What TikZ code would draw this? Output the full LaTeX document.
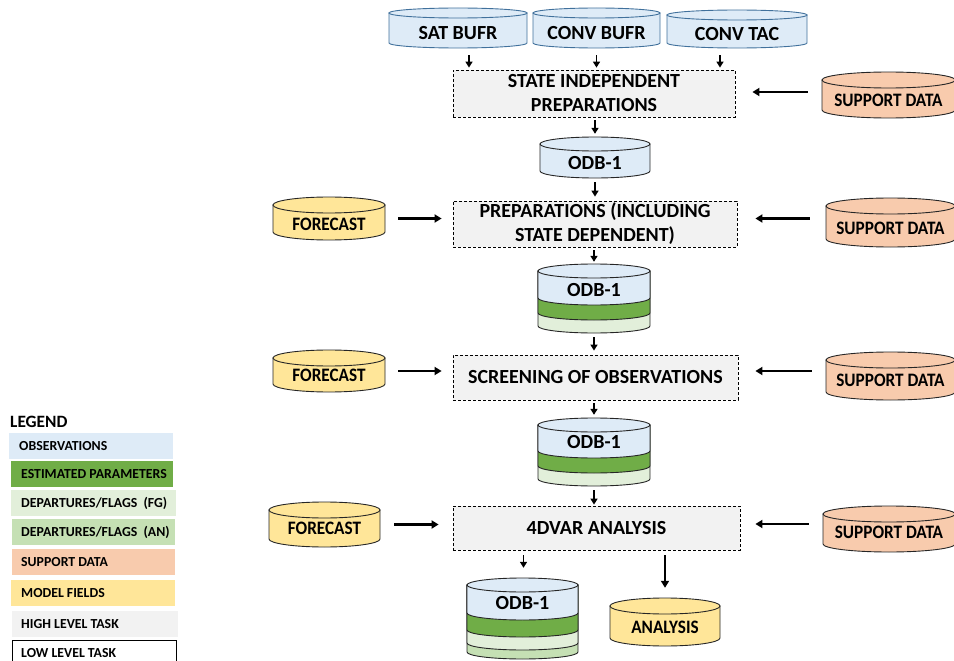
\documentclass[tikz,border=0pt]{standalone}
\usepackage{fontspec}
\setmainfont{Carlito}
\usetikzlibrary{arrows.meta,fit}
\definecolor{obs}{HTML}{DEEBF7}
\definecolor{est}{HTML}{70AD47}
\definecolor{fgc}{HTML}{E2EFDA}
\definecolor{anc}{HTML}{C5E0B4}
\definecolor{supc}{HTML}{F8CBAD}
\definecolor{mfc}{HTML}{FFE699}
\definecolor{hlt}{HTML}{F2F2F2}
\definecolor{blueedge}{HTML}{41719C}
\definecolor{darkedge}{HTML}{262626}
% L R T B e style
\newcommand\cylbody[6]{\filldraw[#6] (#1,#3+#5) -- (#1,#4-#5) arc[start angle=180,end angle=0,x radius={(#2-#1)/2},y radius=#5] -- (#2,#3+#5) -- cycle;}
\newcommand\cyltop[6]{\filldraw[#6] ({(#1+#2)/2},#3+#5) ellipse[x radius={(#2-#1)/2},y radius=#5];}
% name L R T B e style texty text
\newcommand\cylnode[9]{\cylbody{#2}{#3}{#4}{#5}{#6}{#7}\cyltop{#2}{#3}{#4}{#5}{#6}{#7}%
  \node[fit={(#2,#4) (#3,#5)},inner sep=0] (#1) {};
  \node[lbl] (#1-t) at ({(#2+#3)/2},#8) {#9};}
% top layer of a layered store: name L R T Btop Bfull e texty text
\newcommand\cyllayernode[9]{\cylbody{#2}{#3}{#4}{#5}{#7}{obscyl}\cyltop{#2}{#3}{#4}{#5}{#7}{obscyl}%
  \node[fit={(#2,#4) (#3,#6)},inner sep=0] (#1) {};
  \node[lbl] (#1-t) at ({(#2+#3)/2},#8) {#9};}
\newcommand\sm[1]{\scalebox{0.86}[0.95]{#1}}
\begin{document}
\begin{tikzpicture}[x=1pt,y=-1pt,
  bfnt/.style={font=\bfseries\fontsize{20}{24}\selectfont},
  lbl/.style={bfnt,inner sep=0},
  task/.style={draw=black,dash pattern=on 3pt off 2pt,fill=hlt,line width=0.8pt,bfnt,align=center,inner sep=0},
  arr/.style={line width=1.8pt,-{Triangle[length=6pt,width=7pt]}},
  harr/.style={line width=2.3pt,-{Triangle[length=7pt,width=8pt]}},
  bluecyl/.style={fill=obs,draw=blueedge,line width=0.9pt},
  obscyl/.style={fill=obs,draw=darkedge,line width=0.9pt},
  estcyl/.style={fill=est,draw=darkedge,line width=0.9pt},
  fgcyl/.style={fill=fgc,draw=darkedge,line width=0.9pt},
  ancyl/.style={fill=anc,draw=darkedge,line width=0.9pt},
  supcyl/.style={fill=supc,draw=darkedge,line width=0.9pt},
  mfcyl/.style={fill=mfc,draw=darkedge,line width=0.9pt},
  legbox/.style={anchor=north west,inner sep=0,minimum height=26pt,minimum width=#1},
  legtxt/.style={anchor=west,inner sep=0,font=\bfseries\fontsize{13.8}{15}\selectfont}
]
\useasboundingbox (0,0) rectangle (954,661);

% top sources
\cylnode{sat}{389}{527}{8}{48}{5}{bluecyl}{33}{SAT BUFR}
\cylnode{cb}{533}{660}{8}{48}{5}{bluecyl}{33}{CONV BUFR}
\cylnode{ct}{667}{807}{10}{48}{5}{bluecyl}{34}{CONV TAC}

% tasks
\node[task,minimum width=282pt,minimum height=47pt] (sip) at (594,93.5) {STATE INDEPENDENT\\PREPARATIONS};
\node[task,minimum width=284pt,minimum height=46pt] (prep) at (595,224) {PREPARATIONS (INCLUDING\\STATE DEPENDENT)};
\node[task,minimum width=285pt,minimum height=45pt] (scr) at (595.5,377.5) {SCREENING OF OBSERVATIONS};
\node[task,minimum width=287pt,minimum height=44pt] (var) at (596.5,528) {4DVAR ANALYSIS};

% support data
\cylnode{sd1}{822}{955}{72}{118}{8}{supcyl}{100}{\sm{SUPPORT DATA}}
\cylnode{sd2}{826}{955}{198}{247}{8}{supcyl}{228}{\sm{SUPPORT DATA}}
\cylnode{sd3}{826}{955}{352}{400}{8}{supcyl}{380}{\sm{SUPPORT DATA}}
\cylnode{sd4}{823}{955}{506}{552}{8}{supcyl}{532}{\sm{SUPPORT DATA}}

% forecasts
\cylnode{fc1}{273}{385}{197}{240}{8}{mfcyl}{224}{\sm{FORECAST}}
\cylnode{fc2}{273}{385}{350}{392}{8}{mfcyl}{375}{\sm{FORECAST}}
\cylnode{fc3}{269}{380}{502}{547}{8}{mfcyl}{528}{\sm{FORECAST}}

% ODB-1 a
\cylnode{odba}{540}{650}{137}{178}{7}{obscyl}{163}{ODB-1}
% ODB-1 b
\cylbody{538}{650}{264}{333}{7}{fgcyl}
\cylbody{538}{650}{264}{320}{7}{estcyl}
\cyllayernode{odbb}{538}{650}{264}{305}{333}{7}{290}{ODB-1}
% ODB-1 c
\cylbody{538}{650}{418}{486}{7}{fgcyl}
\cylbody{538}{650}{418}{473}{7}{estcyl}
\cyllayernode{odbc}{538}{650}{418}{458}{486}{7}{442}{ODB-1}
% ODB-1 d
\cylbody{467}{578}{578}{659}{7}{ancyl}
\cylbody{467}{578}{578}{650}{7}{fgcyl}
\cylbody{467}{578}{578}{637}{7}{estcyl}
\cyllayernode{odbd}{467}{578}{578}{620}{659}{7}{603}{ODB-1}
% analysis
\cylnode{ana}{610}{720}{598}{646}{8}{mfcyl}{627}{\sm{ANALYSIS}}

% arrows
\draw[arr,shorten <=7pt,shorten >=2pt] ([xshift=11pt]sat.south) -- ([xshift=11pt]sat.south |- sip.north);
\draw[arr,shorten <=7pt,shorten >=2pt] (cb.south) -- (cb.south |- sip.north);
\draw[arr,shorten <=7pt,shorten >=2pt] ([xshift=-17pt]ct.south) -- ([xshift=-17pt]ct.south |- sip.north);
\draw[harr,shorten <=14pt,shorten >=17pt] ([yshift=3pt]sd1.west) -- ([yshift=3pt]sd1.west -| sip.east);
\draw[arr,shorten <=3pt,shorten >=3pt] (odba.north |- sip.south) -- (odba.north);
\draw[arr,shorten <=4pt,shorten >=4pt] (odba.south) -- (odba.south |- prep.north);
\draw[harr,shorten <=13pt,shorten >=11pt] (fc1.east) -- (fc1.east -| prep.west);
\draw[harr,shorten <=16pt,shorten >=18pt] ([yshift=4pt]sd2.west) -- ([yshift=4pt]sd2.west -| prep.east);
\draw[arr,shorten <=3pt,shorten >=2pt] (odbb.north |- prep.south) -- (odbb.north);
\draw[arr,shorten <=4pt,shorten >=4pt] (odbb.south) -- (odbb.south |- scr.north);
\draw[harr,shorten <=13pt,shorten >=11pt] (fc2.east) -- (fc2.east -| scr.west);
\draw[harr,shorten <=14pt,shorten >=17pt] ([yshift=5pt]sd3.west) -- ([yshift=5pt]sd3.west -| scr.east);
\draw[arr,shorten <=3pt,shorten >=3pt] (odbc.north |- scr.south) -- (odbc.north);
\draw[arr,shorten <=4pt,shorten >=1pt] (odbc.south) -- (odbc.south |- var.north);
\draw[harr,shorten <=14pt,shorten >=14pt] (fc3.east) -- (fc3.east -| var.west);
\draw[harr,shorten <=14pt,shorten >=15pt] ([yshift=5pt]sd4.west) -- ([yshift=5pt]sd4.west -| var.east);
\draw[arr,shorten <=5pt,shorten >=10pt] ([xshift=1pt]odbd.north |- var.south) -- ([xshift=1pt]odbd.north);
\draw[harr,shorten <=5pt,shorten >=10pt] ([xshift=0pt]ana.north |- var.south) -- (ana.north);

% legend
\node[anchor=west,inner sep=0,font=\bfseries\fontsize{17.3}{19}\selectfont] (legt) at (10,422) {LEGEND};
\node[legbox=164pt,fill=obs] (l1) at (9,433) {};
\node[legtxt] (l1t) at ([xshift=10pt]l1.west) {OBSERVATIONS};
\node[legbox=162pt,fill=est] (l2) at (11,461) {};
\node[legtxt] (l2t) at ([xshift=10pt]l2.west) {ESTIMATED PARAMETERS};
\node[legbox=165pt,fill=fgc] (l3) at (11,490) {};
\node[legtxt] (l3t) at ([xshift=10pt]l3.west) {DEPARTURES/FLAGS~~(FG)};
\node[legbox=163pt,fill=anc] (l4) at (12,519) {};
\node[legtxt] (l4t) at ([xshift=9pt]l4.west) {DEPARTURES/FLAGS~~(AN)};
\node[legbox=163pt,fill=supc] (l5) at (12,549) {};
\node[legtxt] (l5t) at ([xshift=9pt]l5.west) {SUPPORT DATA};
\node[legbox=164pt,fill=mfc] (l6) at (11,580) {};
\node[legtxt] (l6t) at ([xshift=10pt]l6.west) {MODEL FIELDS};
\node[legbox=166pt,fill=hlt] (l7) at (12,611) {};
\node[legtxt] (l7t) at ([xshift=9pt]l7.west) {HIGH LEVEL TASK};
\node[legbox=164pt,draw=black,line width=0.8pt] (l8) at (12,640) {};
\node[legtxt] (l8t) at ([xshift=9pt]l8.west) {LOW LEVEL TASK};
\end{tikzpicture}
\end{document}
